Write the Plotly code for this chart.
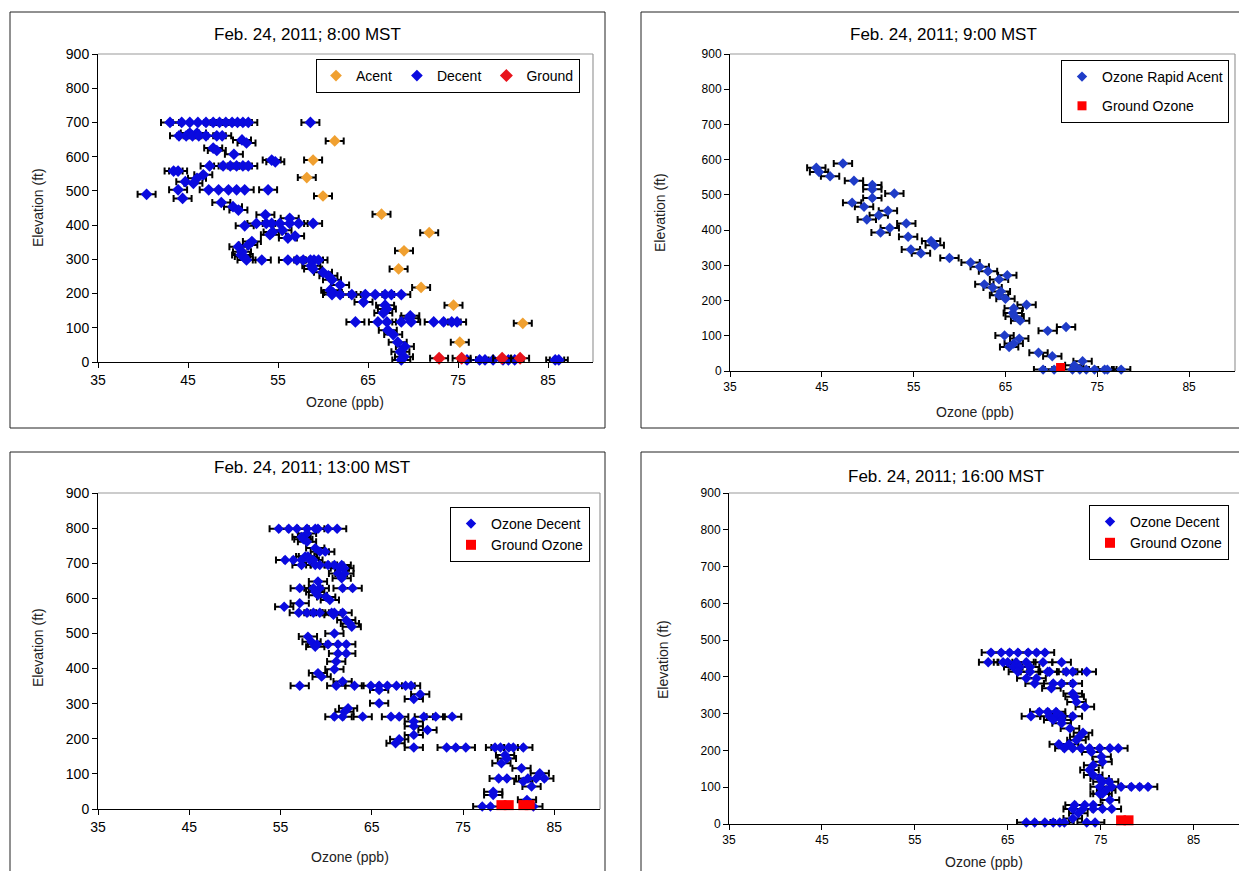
import plotly.graph_objects as go

OFF = 8                      # browser body margin
W, H = 1247 - OFF, 871 - OFF  # figure size so that the page fits the window

# ---------------- DATA ----------------
ERR = 1.0  # +/- error on ozone (ppb)

# Panel 1: Feb 24, 8:00 MST  (elevation ft, [ozone ppb ...])
p1_acent_ozone = [61.3, 58.9, 58.2, 60.0, 66.5, 71.8, 69.0, 68.4, 70.9, 74.5, 82.2, 75.2]
p1_acent_elev = [646, 590, 539, 485, 432, 378, 325, 272, 218, 166, 113, 58]
p1_ground_ozone = [72.9, 75.4, 79.9, 81.9]
p1_ground_elev = [11, 11, 11, 11]
p1_decent_rows = [
    (700, [43.0, 44.3, 45.2, 46.1, 47.0, 47.8, 48.5, 49.2, 49.9, 50.5, 51.1, 51.7, 58.6]),
    (669, [45.2, 46.0]),
    (661, [44.0, 44.8, 45.5, 46.2, 47.0, 48.2, 48.8]),
    (649, [51.0]), (640, [51.5]), (625, [47.8]), (618, [48.2]), (607, [50.1]),
    (590, [54.3]), (585, [54.7]),
    (573, [47.4, 48.9, 49.7, 50.4, 51.1, 51.7]),
    (558, [43.4, 43.9]), (547, [46.7]), (537, [46.0]), (527, [44.7]), (522, [45.6]),
    (503, [43.9, 47.3, 48.4, 49.5, 50.4, 51.3, 53.9]),
    (490, [40.4]), (478, [44.4]), (466, [48.7]), (454, [50.0]), (444, [50.6]),
    (430, [53.6]), (420, [56.3]),
    (405, [52.6, 53.7, 54.3, 55.2, 56.3, 57.3, 58.9]), (398, [51.3]),
    (385, [55.5]), (380, [54.4]), (372, [54.1]), (368, [56.9]), (362, [56.1]),
    (352, [52.1]), (342, [51.7]), (337, [50.6]), (322, [51.0]), (313, [50.9]), (308, [51.2]),
    (298, [51.5, 53.2, 56.1, 57.1, 57.8, 58.6, 59.0, 59.5]),
    (281, [58.7]), (272, [58.9]), (262, [60.0]), (252, [60.6]), (240, [61.0]),
    (225, [61.9]), (210, [60.8]), (203, [61.1]),
    (197, [61.0, 61.9, 63.2, 64.7, 65.8, 66.9, 67.6, 68.7]),
    (175, [64.5]), (166, [66.9]), (155, [67.1]), (143, [66.7]), (135, [69.7]), (128, [69.6]),
    (117, [63.6, 66.1, 67.1, 68.7, 69.8, 72.3, 73.4, 74.3, 74.9]),
    (93, [67.2]), (80, [67.8]), (58, [68.3]), (45, [69.1]), (30, [68.6]), (15, [69.0]),
    (6, [68.7, 76.0, 77.4, 78.0, 78.9, 80.0, 80.6, 81.3, 85.8, 86.2]),
]

# Panel 2: Feb 24, 9:00 MST
p2_acent_rows = [
    (589, [47.3]), (577, [44.4]), (565, [44.7]), (553, [45.9]), (540, [48.5]),
    (528, [50.5]), (516, [50.5]), (504, [52.9]), (491, [50.5]), (478, [48.3]),
    (466, [49.6]), (455, [52.2]), (442, [51.2]), (430, [49.9]), (419, [54.2]),
    (406, [52.4]), (393, [51.4]), (381, [54.4]), (369, [56.9]), (357, [57.3]),
    (345, [54.7]), (334, [55.8]), (321, [58.9]), (308, [61.2]), (296, [62.2]),
    (283, [63.1]), (272, [65.2]), (260, [64.3]), (246, [62.7]), (237, [63.6]),
    (226, [64.5]), (215, [64.3]), (205, [65.0]), (188, [67.3]), (178, [65.9]),
    (165, [65.8]), (155, [66.0]), (143, [66.6]), (125, [71.6]), (114, [69.6]),
    (101, [64.9]), (92, [66.5]), (78, [65.9]), (68, [65.4]), (52, [68.6]),
    (42, [70.1]), (28, [73.4]), (16, [72.5]),
    (4, [69.1, 70.3, 72.3, 73.1, 73.8, 74.7, 75.8, 76.1, 77.6]),
]
p2_ground_ozone = [71.0]
p2_ground_elev = [10]

# Panel 3: Feb 24, 13:00 MST
p3_decent_rows = [
    (798, [54.8, 55.9, 56.8, 57.9, 58.8, 59.1, 60.2, 61.2]),
    (785, [57.9]), (775, [57.3]), (768, [57.5]), (761, [57.9]), (743, [58.8]),
    (733, [59.3, 59.9]), (719, [57.7, 58.0]),
    (709, [55.5, 56.4, 57.3, 58.2, 58.6]),
    (695, [57.3, 58.8, 59.3, 60.2, 60.9, 61.7]),
    (686, [61.5, 62.0]), (671, [61.3, 62.0]), (657, [61.7]), (648, [59.1]),
    (629, [57.1, 58.6, 59.3, 61.8, 62.9]),
    (618, [58.8]), (609, [59.1]), (604, [60.0]), (595, [60.4]), (586, [57.1]), (576, [55.4]),
    (559, [57.0, 57.9, 58.6, 59.3, 60.6, 60.9, 61.8]),
    (553, [60.8]), (538, [62.2]), (528, [62.6]), (519, [62.8]), (500, [60.9]), (491, [58.0]),
    (476, [58.4]), (469, [59.0, 60.2, 61.3, 62.2]), (462, [58.8]),
    (443, [61.3, 62.2]), (420, [61.1]), (398, [60.9]), (387, [59.1]), (377, [59.5]), (363, [61.8]),
    (351, [57.1, 61.1, 63.1, 64.9, 65.8, 66.7, 67.7, 68.7, 69.3]),
    (339, [65.8]), (327, [70.3]), (313, [69.6]), (301, [65.8]), (287, [62.4]), (277, [62.0]),
    (263, [60.9, 61.8, 64.0, 67.1, 68.0, 70.7, 72.0, 73.8]),
    (249, [69.6]), (236, [69.6]), (225, [71.1]), (211, [69.6]), (199, [68.0]), (187, [67.6]),
    (175, [69.6, 73.2, 74.2, 75.3, 78.5, 79.1, 80.0, 80.5, 81.6]),
    (154, [79.6]), (144, [79.8]), (130, [79.2]), (116, [81.4]), (102, [83.4]),
    (87, [78.9, 79.8, 82.1, 83.0, 83.9]),
    (78, [81.6]), (64, [82.5]), (49, [78.3]), (40, [78.3]), (26, [82.0]),
    (7, [77.1, 78.0, 82.7]),
]
p3_ground_ozone = [79.2, 80.0, 81.6, 82.3]
p3_ground_elev = [11, 11, 11, 11]

# Panel 4: Feb 24, 16:00 MST
p4_decent_rows = [
    (466, [63.2, 64.3, 65.2, 66.1, 67.2, 68.1, 69.0]),
    (440, [62.9, 64.5, 65.0, 65.9, 67.0, 68.8, 70.8]),
    (427, [65.6, 66.3, 67.4]),
    (414, [66.1, 67.4, 69.3, 69.5, 71.3, 72.0, 73.5]),
    (396, [67.0, 68.1]), (382, [67.9, 69.9, 70.8, 72.0]),
    (369, [69.7]), (355, [72.0]), (346, [72.2]), (332, [72.4]), (319, [73.3]),
    (305, [68.4, 69.3, 70.2]), (293, [67.5, 69.5, 70.2, 70.8, 72.0]),
    (283, [69.9, 70.8]), (274, [70.8]), (260, [71.7]), (248, [73.1]), (237, [72.7]),
    (228, [72.4]), (217, [70.5, 71.6]),
    (206, [71.1, 72.0, 72.9, 73.8, 74.9, 76.0, 76.9]),
    (196, [74.0]), (183, [75.1]), (169, [75.2]), (160, [74.2]), (147, [73.8]),
    (133, [74.2]), (124, [74.9]), (115, [75.2, 75.9]),
    (101, [74.9, 76.2, 77.2, 78.3, 79.2, 80.1]),
    (92, [75.6]), (82, [74.9, 75.2]), (65, [76.0]),
    (52, [72.2, 73.3, 74.2]), (41, [72.0, 73.1, 74.2, 75.2, 76.2]),
    (29, [72.6]), (15, [72.0]),
    (4, [67.0, 67.9, 69.0, 69.9, 70.6, 71.1, 73.5, 74.4]),
]
p4_ground_ozone = [77.2, 78.0]
p4_ground_elev = [10, 10]

titles = ["Feb. 24, 2011; 8:00 MST", "Feb. 24, 2011; 9:00 MST",
          "Feb. 24, 2011; 13:00 MST", "Feb. 24, 2011; 16:00 MST"]
x_ticks = [35, 45, 55, 65, 75, 85]
y_ticks = [0, 100, 200, 300, 400, 500, 600, 700, 800, 900]
x_title = "Ozone (ppb)"
y_title = "Elevation (ft)"


def flatten(rows):
    xs, ys = [], []
    for elev, vals in rows:
        for v in vals:
            xs.append(v)
            ys.append(elev)
    return xs, ys


p1_dx, p1_dy = flatten(p1_decent_rows)
p2_ax, p2_ay = flatten(p2_acent_rows)
p3_dx, p3_dy = flatten(p3_decent_rows)
p4_dx, p4_dy = flatten(p4_decent_rows)

# ---------------- STYLE ----------------
FONT = "Liberation Sans, Arial, sans-serif"
BLUE = "#0A0ADF"
BLUE2 = "#1F3CC8"
ORANGE = "#F0A030"
RED = "#E8141C"
SQRED = "#FF0000"


def px(x):
    return (x - OFF) / W


def py(y):
    return 1 - (y - OFF) / H


def err():
    return dict(type="constant", value=ERR, color="black", thickness=2, width=3.5)


fig = go.Figure()


def add(x, y, name, color, symbol, size, xa, ya, leg, grp, with_err=True):
    fig.add_trace(go.Scatter(
        x=x, y=y, mode="markers", name=name, legendgroup=grp,
        marker=dict(color=color, symbol=symbol, size=size, line=dict(width=0)),
        error_x=err() if with_err else None,
        xaxis=xa, yaxis=ya, legend=leg, cliponaxis=False,
    ))


# Panel 1
add(p1_acent_ozone, p1_acent_elev, "Acent", ORANGE, "diamond", 9, "x", "y", "legend", "a1")
add(p1_dx, p1_dy, "Decent", BLUE, "diamond", 9, "x", "y", "legend", "b1")
add(p1_ground_ozone, p1_ground_elev, "Ground", RED, "diamond", 10, "x", "y", "legend", "c1")
# Panel 2
add(p2_ax, p2_ay, "Ozone Rapid Acent", BLUE2, "diamond", 8, "x2", "y2", "legend2", "a2")
add(p2_ground_ozone, p2_ground_elev, "Ground Ozone", SQRED, "square", 9, "x2", "y2", "legend2", "b2", False)
# Panel 3
add(p3_dx, p3_dy, "Ozone Decent", BLUE, "diamond", 8, "x3", "y3", "legend3", "a3")
add(p3_ground_ozone, p3_ground_elev, "Ground Ozone", SQRED, "square", 10, "x3", "y3", "legend3", "b3", False)
# Panel 4
add(p4_dx, p4_dy, "Ozone Decent", BLUE, "diamond", 8, "x4", "y4", "legend4", "a4")
add(p4_ground_ozone, p4_ground_elev, "Ground Ozone", SQRED, "square", 10, "x4", "y4", "legend4", "b4", False)

# plot-area pixel boxes in window pixels (left, top, right, bottom)
areas = [(98, 54, 593, 362), (730, 54, 1235, 371), (98, 493, 600, 809), (729, 493, 1240, 824)]
frames = [(10, 12, 605, 428), (641, 12, 1245, 428), (10, 452, 605, 890), (641, 452, 1260, 890)]
tick_sizes = [14, 12, 14, 12]

layout_axes = {}
for i, (l, t, r, b) in enumerate(areas):
    sfx = "" if i == 0 else str(i + 1)
    layout_axes["xaxis" + sfx] = dict(
        domain=[px(l), px(r)], anchor="y" + sfx, range=[35, 90], automargin=False,
        tickvals=x_ticks, ticks="outside", ticklen=5, tickcolor="black",
        showline=True, linecolor="black", linewidth=1, showgrid=False, zeroline=False,
        tickfont=dict(family=FONT, size=tick_sizes[i], color="black"),
    )
    layout_axes["yaxis" + sfx] = dict(
        domain=[py(b), py(t)], anchor="x" + sfx, range=[0, 900], automargin=False,
        tickvals=y_ticks, ticks="outside", ticklen=5, tickcolor="black",
        showline=True, linecolor="black", linewidth=1, showgrid=False, zeroline=False,
        tickfont=dict(family=FONT, size=tick_sizes[i], color="black"),
    )

shapes = []
for (l, t, r, b) in frames:
    shapes.append(dict(type="rect", xref="paper", yref="paper",
                       x0=px(l), x1=px(r), y0=py(b), y1=py(t),
                       line=dict(color="#222222", width=1), fillcolor="rgba(0,0,0,0)", layer="below"))
for (l, t, r, b) in areas:
    shapes.append(dict(type="line", xref="paper", yref="paper",
                       x0=px(l), x1=px(r), y0=py(t), y1=py(t), line=dict(color="#9A9A9A", width=1.2)))
    shapes.append(dict(type="line", xref="paper", yref="paper",
                       x0=px(r), x1=px(r), y0=py(t), y1=py(b), line=dict(color="#9A9A9A", width=1.2)))

annotations = []
title_pos = [(307, 35), (943, 35), (312, 467), (946, 476)]
xt_pos = [(345, 402), (975, 412), (350, 857), (984, 862)]
yt_pos = [(38, 208), (660, 213), (38, 648), (663, 660)]
for i in range(4):
    annotations.append(dict(text=titles[i], x=px(title_pos[i][0]), y=py(title_pos[i][1]),
                            xref="paper", yref="paper", showarrow=False,
                            xanchor="center", yanchor="middle",
                            font=dict(family=FONT, size=17, color="black")))
    annotations.append(dict(text=x_title, x=px(xt_pos[i][0]), y=py(xt_pos[i][1]),
                            xref="paper", yref="paper", showarrow=False,
                            xanchor="center", yanchor="middle",
                            font=dict(family=FONT, size=14, color="#222")))
    annotations.append(dict(text=y_title, x=px(yt_pos[i][0]), y=py(yt_pos[i][1]),
                            xref="paper", yref="paper", showarrow=False, textangle=-90,
                            xanchor="center", yanchor="middle",
                            font=dict(family=FONT, size=14, color="#222")))

legend_common = dict(bgcolor="white", bordercolor="black", borderwidth=1,
                     font=dict(family=FONT, size=14, color="black"),
                     xanchor="right", yanchor="top", itemclick=False, itemwidth=30)

fig.update_layout(
    width=W, height=H, autosize=False,
    margin=dict(l=0, r=0, t=0, b=0, pad=0, autoexpand=False),
    paper_bgcolor="white", plot_bgcolor="white",
    shapes=shapes, annotations=annotations,
    legend=dict(**legend_common, x=px(580), y=py(59), orientation="h"),
    legend2=dict(**legend_common, x=px(1229), y=py(60), orientation="v", tracegroupgap=8),
    legend3=dict(**legend_common, x=px(590), y=py(507), orientation="v", tracegroupgap=0),
    legend4=dict(**legend_common, x=px(1229), y=py(505), orientation="v", tracegroupgap=0),
    **layout_axes,
)

fig.write_html("out.html")
